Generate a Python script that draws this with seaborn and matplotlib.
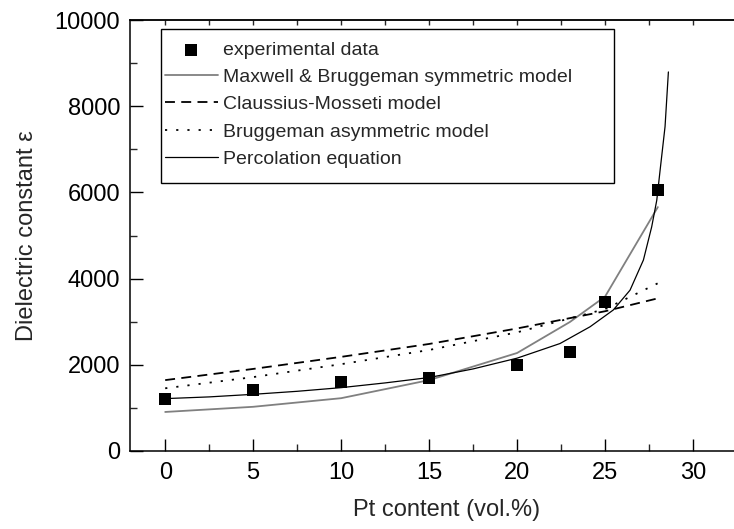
import numpy as np
import pandas as pd
import matplotlib
matplotlib.use("Agg")
import matplotlib.pyplot as plt
from matplotlib.patches import Rectangle
from matplotlib.ticker import MultipleLocator
import seaborn as sns

# ---- data ----
exp_x = [0, 5, 10, 15, 20, 23, 25, 28]
exp_y = [1200, 1400, 1600, 1700, 1980, 2300, 3460, 6050]

mb_x = [0, 5, 10, 15, 20, 23, 25, 28]
mb_y = [900, 1020, 1220, 1640, 2270, 2990, 3580, 5660]

cm_x = [0, 5, 10, 15, 20, 25, 28]
cm_y = [1640, 1900, 2180, 2480, 2840, 3240, 3540]

ba_x = [0, 5, 10, 15, 20, 25, 28]
ba_y = [1450, 1710, 2010, 2340, 2750, 3290, 3890]

perc_x = [0, 2.5, 5, 7.5, 10, 12.5, 15, 17.5, 20, 22.44, 24.15, 25.47, 26.42,
          27.18, 27.65, 27.94, 28.13, 28.41, 28.6]
perc_y = [1210, 1250, 1310, 1380, 1465, 1575, 1700, 1900, 2150, 2490, 2880, 3270, 3730,
          4430, 5200, 5820, 6520, 7530, 8800]

labels = ["experimental data", "Maxwell & Bruggeman symmetric model",
          "Claussius-Mosseti model", "Bruggeman asymmetric model",
          "Percolation equation"]
x_ticks = [0, 5, 10, 15, 20, 25, 30]
y_ticks = [0, 2000, 4000, 6000, 8000, 10000]

# ---- style ----
sns.set_style("ticks")
plt.rcParams["font.family"] = ["Liberation Sans", "DejaVu Sans"]

W, H = 734, 529
fig = plt.figure(figsize=(W / 100, H / 100), dpi=100)
left_px, right_px, top_px, bot_px = 130, 763.4, 20.3, 450.7
ax = fig.add_axes([left_px / W, (H - bot_px) / H, (right_px - left_px) / W, (bot_px - top_px) / H])

# lines
sns.lineplot(x=mb_x, y=mb_y, ax=ax, color="#808080", lw=1.3, label=labels[1])
sns.lineplot(x=cm_x, y=cm_y, ax=ax, color="black", lw=1.3, linestyle=(0, (5.5, 3.5)), label=labels[2])
sns.lineplot(x=ba_x, y=ba_y, ax=ax, color="black", lw=1.3, linestyle=(0, (1.2, 5)), label=labels[3])
sns.lineplot(x=perc_x, y=perc_y, ax=ax, color="black", lw=0.9, label=labels[4])
sns.scatterplot(x=exp_x, y=exp_y, ax=ax, marker="s", s=80, color="black",
                edgecolor="black", linewidth=0, zorder=5, label=labels[0])

ax.set_xlim(-2, 34)
ax.set_ylim(0, 10000)
ax.set_xticks(x_ticks)
ax.set_yticks(y_ticks)
ax.xaxis.set_minor_locator(MultipleLocator(2.5))
ax.yaxis.set_minor_locator(MultipleLocator(1000))
ax.tick_params(which="major", direction="in", length=9, width=1.0, labelsize=17,
               top=False, right=False, colors="black")
ax.tick_params(axis="x", which="major", pad=8)
ax.tick_params(axis="y", which="major", pad=7)
ax.tick_params(which="minor", direction="in", length=5, width=1.0, top=False, right=False)
for s in ax.spines.values():
    s.set_linewidth(1.1)
    s.set_color("black")

sec = ax.secondary_xaxis("top")
sec.set_xticks(np.arange(0, 35, 2.5))
sec.tick_params(direction="in", length=3.5, width=1.0, labeltop=False)
sec.spines["top"].set_linewidth(1.1)

ax.set_xlabel("Pt content (vol.%)", fontsize=17, labelpad=11)
ax.set_ylabel("Dielectric constant \u03b5", fontsize=17, labelpad=12)

# legend
handles, labs = ax.get_legend_handles_labels()
order = [labs.index(l) for l in labels]
aw = right_px - left_px
ah = bot_px - top_px
leg = ax.legend([handles[i] for i in order], [labs[i] for i in order],
                loc="upper left", bbox_to_anchor=((165 - left_px) / aw, (bot_px - 41) / ah),
                frameon=False, fontsize=14, borderpad=0, borderaxespad=0,
                handlelength=2.7, handletextpad=0.3, labelspacing=0.5)
ax.add_patch(Rectangle(((161 - left_px) / aw, (bot_px - 182.7) / ah),
                       (614 - 161) / aw, (182.7 - 29.3) / ah, transform=ax.transAxes,
                       fill=False, lw=1.0, ec="black", zorder=10))

fig.savefig("out.png", dpi=100)
